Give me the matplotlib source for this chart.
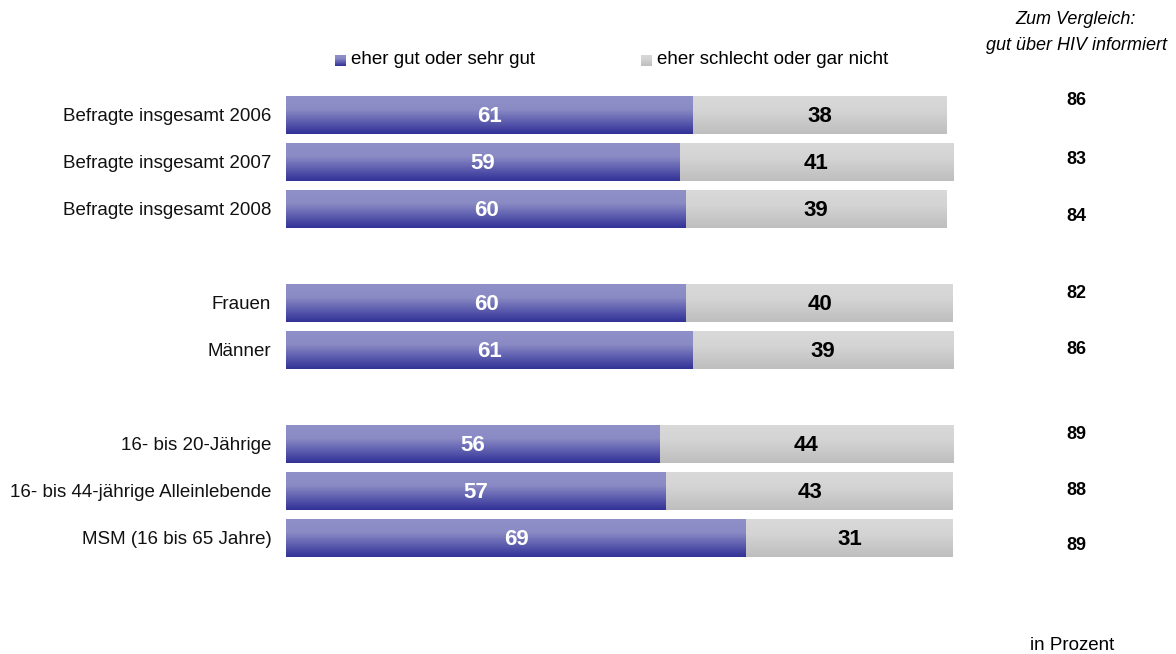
import numpy as np
import matplotlib.pyplot as plt
from matplotlib.colors import LinearSegmentedColormap

plt.rcParams['font.family'] = ['Liberation Sans', 'DejaVu Sans']

# data
categories = ['Befragte insgesamt 2006', 'Befragte insgesamt 2007', 'Befragte insgesamt 2008',
              'Frauen', 'Männer',
              '16- bis 20-Jährige', '16- bis 44-jährige Alleinlebende', 'MSM (16 bis 65 Jahre)']
rows = [0, 1, 2, 4, 5, 7, 8, 9]
gut = [61, 59, 60, 60, 61, 56, 57, 69]
schlecht = [38, 41, 39, 40, 39, 44, 43, 31]
hiv_informiert = [86, 83, 84, 82, 86, 89, 88, 89]
legend_labels = ['eher gut oder sehr gut', 'eher schlecht oder gar nicht']

# small vertical nudges of the right column (in row units)
nudge = [-0.3, -0.06, 0.15, -0.2, 0.0, -0.2, -0.02, 0.15]

W, H = 1176, 654
fig = plt.figure(figsize=(W / 100, H / 100), dpi=100)
ax = fig.add_axes([286 / W, (H - 561.5) / H, 667 / W, 470 / H])
ax.axis('off')

blue = LinearSegmentedColormap.from_list('b', [(0, '#9090c9'), (0.35, '#8a8ac4'), (0.7, '#5a5aae'), (1, '#323297')])
grey = LinearSegmentedColormap.from_list('g', [(0, '#d9d9d9'), (0.4, '#d4d4d4'), (1, '#bebebe')])
grad = np.linspace(0, 1, 64).reshape(-1, 1)
bh = 0.79

for r, g, s in zip(rows, gut, schlecht):
    ax.imshow(grad, cmap=blue, aspect='auto', extent=(0, g, r + bh / 2, r - bh / 2), interpolation='bilinear')
    ax.imshow(grad, cmap=grey, aspect='auto', extent=(g, g + s, r + bh / 2, r - bh / 2), interpolation='bilinear')
    ax.text(g / 2, r + 0.03, str(g), ha='center', va='center', color='white', fontsize=16, fontweight='bold')
    ax.text(g + s / 2, r + 0.03, str(s), ha='center', va='center', color='black', fontsize=16, fontweight='bold')

ax.set_xlim(0, 100)
ax.set_ylim(9.5, -0.5)

for r, c in zip(rows, categories):
    ax.text(-2.2, r + 0.03, c, ha='right', va='center', fontsize=13.5, color='#111111')

for r, v, n in zip(rows, hiv_informiert, nudge):
    ax.text(118.5, r + n, str(v), ha='center', va='center', fontsize=13, fontweight='bold')

# legend with gradient squares
fig_h = lambda y: (H - y) / H
for x0, lab, cm in [(335, legend_labels[0], blue), (641, legend_labels[1], grey)]:
    lax = fig.add_axes([x0 / W, fig_h(66), 11 / W, 11 / H])
    lax.imshow(grad, cmap=cm, aspect='auto', interpolation='bilinear')
    lax.axis('off')
    fig.text((x0 + 16) / W, fig_h(60), lab, ha='left', va='center', fontsize=13.5)

fig.text(1076 / W, fig_h(19), 'Zum Vergleich:', ha='center', va='center', fontsize=13, style='italic')
fig.text(1076 / W, fig_h(45), 'gut über HIV informiert', ha='center', va='center', fontsize=13, style='italic')
fig.text(1072 / W, fig_h(645), 'in Prozent', ha='center', va='center', fontsize=13.5)

fig.savefig('out.png', dpi=100)
